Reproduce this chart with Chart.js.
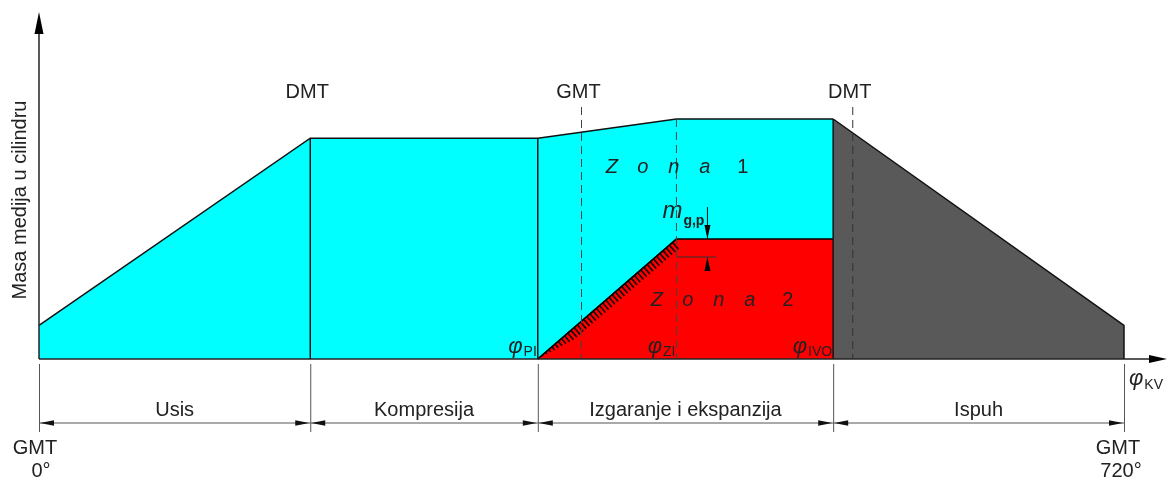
<!DOCTYPE html>
<html lang="hr">
<head>
    <meta charset="UTF-8">
    <title>Masa medija u cilindru</title>
    <script src="https://cdn.jsdelivr.net/npm/chart.js"></script>
    <style>
        body { margin: 0; background: #fff; }
        canvas { display: block; }
    </style>
</head>
<body>
    <canvas id="myChart" width="1169" height="486"></canvas>

    <script>
        // kut koljenastog vratila (schematski, 0..720 °KV)
        const phaseNames = ['Usis', 'Kompresija', 'Izgaranje i ekspanzija', 'Ispuh'];
        const phaseBounds = [0, 180, 331, 527, 720];

        // svjeza smjesa / ukupna masa (zona 1)
        const chargeX = [0, 180, 331, 423, 527];
        const chargeY = [0.14, 0.92, 0.92, 1.0, 1.0];

        // izgarani plinovi (zona 2)
        const burnedX = [331, 423, 527];
        const burnedY = [0, 0.5, 0.5];

        // ispuh
        const exhaustX = [527, 720, 720];
        const exhaustY = [1.0, 0.14, 0];

        // mrtve tocke gore
        const deadCenterX = [180, 360, 540];
        const deadCenterLabels = ['DMT', 'GMT', 'DMT'];
        const dashedX = [360, 423, 540];
        const dashedTop = [1.05, 1.0, 1.05];

        // oznake kutova
        const angleX = [331, 423, 527];
        const angleSubs = ['PI', 'ZI', 'IVO'];
        const mgpLow = 0.425; // donja granica m_g,p

        const pts = (xs, ys) => xs.map((x, i) => ({ x: x, y: ys[i] }));
        const FONT = '"Liberation Sans", Arial, sans-serif';

        function arrow(ctx, x, y, dx, dy, len, hw) {
            // vrh u (x,y), smjer (dx,dy)
            const px = -dy, py = dx;
            ctx.beginPath();
            ctx.moveTo(x, y);
            ctx.lineTo(x - dx * len + px * hw, y - dy * len + py * hw);
            ctx.lineTo(x - dx * len - px * hw, y - dy * len - py * hw);
            ctx.closePath();
            ctx.fill();
        }

        function subText(ctx, main, sub, x, y, align, mainFont, subFont, subDy) {
            ctx.font = mainFont;
            const w1 = ctx.measureText(main).width;
            ctx.font = subFont;
            const w2 = ctx.measureText(sub).width;
            let x0 = x;
            if (align === 'right') x0 = x - w1 - w2;
            if (align === 'center') x0 = x - (w1 + w2) / 2;
            ctx.textAlign = 'left';
            ctx.font = mainFont;
            ctx.fillText(main, x0, y);
            ctx.font = subFont;
            ctx.fillText(sub, x0 + w1 + 1, y + subDy);
        }

        const decor = {
            id: 'decor',
            beforeDatasetsDraw(chart) {
                const ctx = chart.ctx;
                ctx.save();
                ctx.fillStyle = '#fff';
                ctx.fillRect(0, 0, chart.width, chart.height);
                ctx.restore();
            },
            afterDatasetsDraw(chart) {
                const ctx = chart.ctx;
                const X = v => chart.scales.x.getPixelForValue(v);
                const Y = v => chart.scales.y.getPixelForValue(v);
                const y0 = Y(0);
                ctx.save();

                // srafura uz dijagonalu
                const ax = X(burnedX[0]), ay = Y(burnedY[0]);
                const bx = X(burnedX[1]), by = Y(burnedY[1]);
                const L = Math.hypot(bx - ax, by - ay);
                const ux = (bx - ax) / L, uy = (by - ay) / L;
                const nx = -uy, ny = ux; // normala prema dolje-desno
                ctx.strokeStyle = '#1a0000';
                ctx.lineWidth = 1.6;
                for (let t = 6; t < L - 1; t += 4.2) {
                    const w = Math.min(9, t * 0.22);
                    const px = ax + ux * t, py = ay + uy * t;
                    ctx.beginPath();
                    ctx.moveTo(px, py);
                    ctx.lineTo(px + nx * w, py + ny * w);
                    ctx.stroke();
                }
                // dijagonala ponovno
                ctx.strokeStyle = '#000';
                ctx.lineWidth = 1.5;
                ctx.beginPath();
                ctx.moveTo(ax, ay);
                ctx.lineTo(bx, by);
                ctx.stroke();

                // pune vertikale
                ctx.lineWidth = 1.5;
                ctx.strokeStyle = '#111';
                [[180, 0.92], [331, 0.92], [527, 1.0]].forEach(([v, top]) => {
                    ctx.beginPath();
                    ctx.moveTo(X(v), y0);
                    ctx.lineTo(X(v), Y(top));
                    ctx.stroke();
                });

                // isprekidane vertikale
                ctx.setLineDash([8, 5]);
                ctx.lineWidth = 1;
                dashedX.forEach((v, i) => {
                    ctx.strokeStyle = v === 540 ? '#333' : '#444';
                    ctx.beginPath();
                    ctx.moveTo(X(v), Y(dashedTop[i]));
                    ctx.lineTo(X(v), y0);
                    ctx.stroke();
                });
                ctx.setLineDash([]);

                // osi
                ctx.strokeStyle = '#222';
                ctx.fillStyle = '#000';
                ctx.lineWidth = 1.5;
                const xl = X(0);
                ctx.beginPath();
                ctx.moveTo(xl, y0);
                ctx.lineTo(xl, 22);
                ctx.stroke();
                arrow(ctx, xl, 12, 0, -1, 22, 4.5);
                const xr = chart.width - 2;
                ctx.beginPath();
                ctx.moveTo(xl, y0);
                ctx.lineTo(xr - 10, y0);
                ctx.stroke();
                arrow(ctx, xr, y0, 1, 0, 18, 4);

                // kotne linije dole
                ctx.strokeStyle = '#555';
                ctx.lineWidth = 1;
                ctx.fillStyle = '#111';
                const dimY = y0 + 64;
                phaseBounds.forEach(v => {
                    ctx.beginPath();
                    ctx.moveTo(X(v) + 0.5, y0 + 5);
                    ctx.lineTo(X(v) + 0.5, y0 + 73);
                    ctx.stroke();
                });
                ctx.textAlign = 'center';
                ctx.textBaseline = 'middle';
                for (let i = 0; i < phaseNames.length; i++) {
                    const a = X(phaseBounds[i]), b = X(phaseBounds[i + 1]);
                    ctx.beginPath();
                    ctx.moveTo(a, dimY);
                    ctx.lineTo(b, dimY);
                    ctx.stroke();
                    arrow(ctx, a + 1, dimY, -1, 0, 14, 2.8);
                    arrow(ctx, b - 1, dimY, 1, 0, 14, 2.8);
                    ctx.font = '20px ' + FONT;
                    ctx.fillStyle = '#222';
                    ctx.fillText(phaseNames[i], (a + b) / 2, dimY - 13);
                    ctx.fillStyle = '#111';
                }

                // tekstovi
                ctx.fillStyle = '#222';
                ctx.font = '20px ' + FONT;
                deadCenterX.forEach((v, i) => {
                    ctx.fillText(deadCenterLabels[i], X(v) - 3, 92);
                });
                ctx.fillText('GMT', X(0) - 4, 448);
                ctx.fillText('0°', X(0) + 2, 471);
                ctx.fillText('GMT', X(720) - 6, 448);
                ctx.fillText('720°', X(720) - 3, 471);

                // os y naslov
                ctx.save();
                ctx.translate(20, 200);
                ctx.rotate(-Math.PI / 2);
                ctx.fillText('Masa medija u cilindru', 0, 0);
                ctx.restore();

                // phi oznake
                ctx.textBaseline = 'alphabetic';
                const phiF = 'italic 22px ' + FONT, subF = '14px ' + FONT;
                angleX.forEach((v, i) => {
                    subText(ctx, 'φ', angleSubs[i], X(v) - 2, y0 - 6, 'right', phiF, subF, 3);
                });
                subText(ctx, 'φ', 'KV', X(720) + 5, y0 + 26, 'left', phiF, subF, 4);

                // zone
                ctx.textAlign = 'center';
                ctx.textBaseline = 'middle';
                const zone = (cx, cy, n) => {
                    const letters = ['Z', 'o', 'n', 'a'];
                    letters.forEach((c, k) => {
                        ctx.font = 'italic 20px ' + FONT;
                        ctx.fillText(c, cx + k * 31, cy);
                    });
                    ctx.font = '20px ' + FONT;
                    ctx.fillText(n, cx + 4 * 31 + 7, cy);
                };
                zone(X(331) + 74, 167, '1');
                zone(X(331) + 119, 300, '2');

                // m_g,p
                ctx.textBaseline = 'alphabetic';
                subText(ctx, 'm', 'g,p', X(423) - 14, Y(0.5) - 21, 'left',
                    'italic 24px ' + FONT, 'bold 14px ' + FONT, 7);
                const mx = X(423) + 31;
                ctx.strokeStyle = '#111';
                ctx.lineWidth = 1;
                ctx.beginPath();
                ctx.moveTo(mx, Y(0.5) - 32);
                ctx.lineTo(mx, Y(0.5));
                ctx.stroke();
                ctx.fillStyle = '#000';
                arrow(ctx, mx, Y(0.5), 0, 1, 14, 3);
                ctx.beginPath();
                ctx.moveTo(mx, Y(mgpLow) + 14);
                ctx.lineTo(mx, Y(mgpLow));
                ctx.stroke();
                arrow(ctx, mx, Y(mgpLow), 0, -1, 14, 3);
                ctx.strokeStyle = '#333';
                ctx.beginPath();
                ctx.moveTo(X(423), Y(mgpLow));
                ctx.lineTo(mx + 9, Y(mgpLow));
                ctx.stroke();

                ctx.restore();
            }
        };

        const ctx = document.getElementById('myChart').getContext('2d');
        const myChart = new Chart(ctx, {
            type: 'line',
            data: {
                datasets: [
                    {
                        label: 'Zona 2',
                        data: pts(burnedX, burnedY),
                        backgroundColor: '#ff0000',
                        borderColor: '#000',
                        borderWidth: 1.5,
                        fill: 'origin',
                        pointRadius: 0,
                        order: 1
                    },
                    {
                        label: 'Ispuh',
                        data: pts(exhaustX, exhaustY),
                        backgroundColor: '#595959',
                        borderColor: '#111',
                        borderWidth: 1.5,
                        fill: 'origin',
                        pointRadius: 0,
                        order: 2
                    },
                    {
                        label: 'Zona 1',
                        data: pts(chargeX, chargeY),
                        backgroundColor: '#00ffff',
                        borderColor: '#111',
                        borderWidth: 1.5,
                        fill: 'origin',
                        pointRadius: 0,
                        order: 3
                    }
                ]
            },
            options: {
                responsive: false,
                animation: false,
                devicePixelRatio: 1,
                clip: false,
                layout: { padding: { left: 39, right: 45, top: 11, bottom: 127 } },
                plugins: {
                    legend: { display: false },
                    tooltip: { enabled: false }
                },
                scales: {
                    x: { type: 'linear', min: 0, max: 720, display: false },
                    y: { min: 0, max: 1.45, display: false }
                }
            },
            plugins: [decor]
        });
    </script>
</body>
</html>
